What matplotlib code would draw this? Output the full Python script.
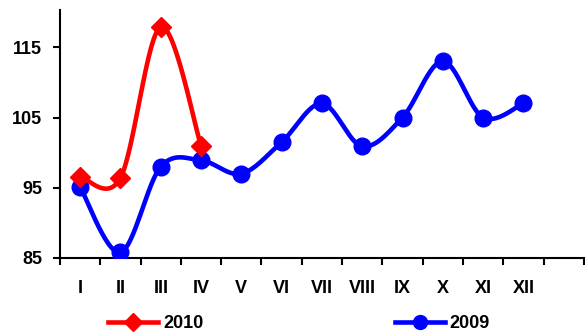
import numpy as np
from matplotlib import pyplot as plt

months = ['I', 'II', 'III', 'IV', 'V', 'VI', 'VII', 'VIII', 'IX', 'X', 'XI', 'XII']
y2009 = [95.1, 85.8, 98.0, 98.9, 97.0, 101.5, 107.0, 100.9, 105.0, 113.0, 105.0, 107.0]
y2010 = [96.6, 96.4, 117.9, 101.0]
yticks = [85, 95, 105, 115]

plt.rcParams['font.family'] = ['Liberation Sans', 'DejaVu Sans']
plt.rcParams['font.weight'] = 'bold'


def smooth(xs, ys, n=30):
    # catmull-rom like Excel smoothed line
    xs = np.asarray(xs, float)
    ys = np.asarray(ys, float)
    px = np.concatenate([[xs[0]], xs, [xs[-1]]])
    py = np.concatenate([[ys[0]], ys, [ys[-1]]])
    outx, outy = [], []
    t = np.linspace(0, 1, n)
    for i in range(1, len(px) - 2):
        p0x, p1x, p2x, p3x = px[i - 1], px[i], px[i + 1], px[i + 2]
        p0y, p1y, p2y, p3y = py[i - 1], py[i], py[i + 1], py[i + 2]
        c1x, c1y = p1x + (p2x - p0x) / 6, p1y + (p2y - p0y) / 6
        c2x, c2y = p2x - (p3x - p1x) / 6, p2y - (p3y - p1y) / 6
        bx = (1-t)**3*p1x + 3*(1-t)**2*t*c1x + 3*(1-t)*t**2*c2x + t**3*p2x
        by = (1-t)**3*p1y + 3*(1-t)**2*t*c1y + 3*(1-t)*t**2*c2y + t**3*p2y
        outx.extend(bx)
        outy.extend(by)
    return outx, outy


fig = plt.figure(figsize=(5.85, 3.35), dpi=100)
ax = fig.add_axes([0.1026, 0.2299, 0.8954, 0.7401])

x09 = np.arange(len(y2009))
x10 = np.arange(len(y2010))

sx, sy = smooth(x09, y2009)
ax.plot(sx, sy, color='#0000ff', lw=3.3, solid_capstyle='round', zorder=2)
ax.plot(x09, y2009, 'o', color='#0000ff', ms=12, zorder=3)
sx, sy = smooth(x10, y2010)
ax.plot(sx, sy, color='#ff0000', lw=3.3, solid_capstyle='round', zorder=4)
ax.plot(x10, y2010, 'D', color='#ff0000', ms=10, zorder=5)

# legend handles
h10, = ax.plot([], [], color='#ff0000', lw=3.3, marker='D', ms=9)
h09, = ax.plot([], [], color='#0000ff', lw=3.3, marker='o', ms=10)
fig.legend([h10, h09], ['2010', '2009'], loc='center', bbox_to_anchor=(0.511, 0.033),
           ncol=2, frameon=False, handlelength=2.8, columnspacing=10.6,
           handletextpad=0.25, prop={'size': 13, 'weight': 'bold'})

ax.set_xlim(-0.5, 12.5)
ax.set_ylim(85, 120.3)
ax.set_yticks(yticks)
ax.set_xticks(np.arange(len(months)))
ax.set_xticklabels(months)
ax.set_xticks(np.arange(-0.5, 13, 1), minor=True)
ax.tick_params(axis='x', which='major', length=0, pad=16, labelsize=13)
ax.tick_params(axis='x', which='minor', length=5, width=1.5, direction='out')
ax.tick_params(axis='y', length=5, width=1.5, direction='out', labelsize=13, pad=8)
for s in ['top', 'right']:
    ax.spines[s].set_visible(False)
for s in ['left', 'bottom']:
    ax.spines[s].set_linewidth(1.5)

plt.savefig('out.png', dpi=100)
